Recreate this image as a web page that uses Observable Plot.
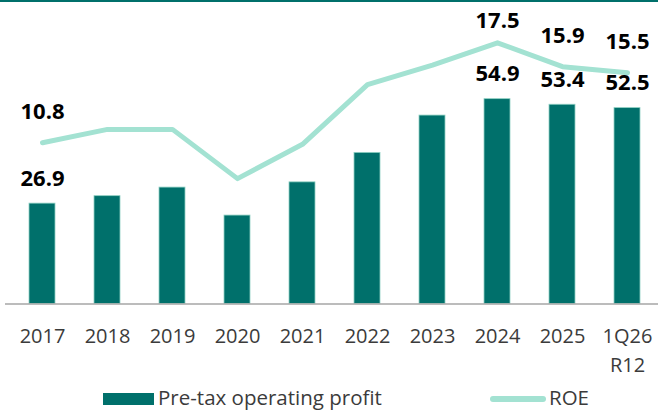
<!DOCTYPE html>
<html><head><meta charset="utf-8">
<script src="https://cdn.jsdelivr.net/npm/d3@7"></script>
<script src="https://cdn.jsdelivr.net/npm/@observablehq/plot@0.6"></script>
<style>
html,body{margin:0;padding:0;background:#fff;}
#wrap{position:relative;width:658px;height:410px;overflow:hidden;font-family:"Open Sans",sans-serif;}
#chart{position:absolute;left:0;top:0;}
#topline{position:absolute;left:0;top:0;width:658px;height:2px;background:#00706b;}
.leg{position:absolute;}
.legtxt{position:absolute;font-size:20.5px;line-height:20.5px;color:#3b3b3b;white-space:nowrap;}
</style></head><body>
<div id="wrap"><div id="chart"></div><div id="topline"></div><div id="legend"></div></div>
<script>
const categories = ["2017","2018","2019","2020","2021","2022","2023","2024","2025","1Q26\nR12"];
const profit = [26.9, 28.9, 31.2, 23.7, 32.6, 40.5, 50.5, 54.9, 53.4, 52.5];
const roe = [10.8, 11.7, 11.7, 8.4, 10.7, 14.7, 16.0, 17.5, 15.9, 15.5];
const labelled = ["2017","2024","2025","1Q26\nR12"];
const seriesNames = ["Pre-tax operating profit","ROE"];
const profitDomain = [0, 80];
const roeDomain = [0, 20];

const barColor = "#00706b";
const lineColor = "#a3e2d2";
const k = profitDomain[1] / roeDomain[1];

const data = categories.map((c, i) => ({cat: c, profit: profit[i], roe: roe[i], roeY: roe[i] * k, label: labelled.includes(c)}));
const lab = data.filter(d => d.label);
const peak = d3.max(roe);

const chart = Plot.plot({
  width: 658,
  height: 410,
  marginLeft: 5,
  marginRight: 0,
  marginTop: 5,
  marginBottom: 106.5,
  style: {fontFamily: "'Open Sans', sans-serif", background: "transparent"},
  x: {domain: categories, range: [6.4, 662.4], paddingInner: 0.6, paddingOuter: 0.3},
  y: {domain: profitDomain, axis: null},
  marks: [
    Plot.barY(data, {x: "cat", y: "profit", fill: barColor, stroke: "#8fd0c3", strokeWidth: 0.8}),
    Plot.ruleY([0], {stroke: "#a6a6a6", strokeWidth: 1.5}),
    Plot.line(data, {x: "cat", y: "roeY", stroke: lineColor, strokeWidth: 5, strokeLinecap: "round", strokeLinejoin: "round"}),
    Plot.text(lab, {x: "cat", y: "profit", text: d => d.profit.toFixed(1), dy: -25, fontSize: 22, fontWeight: 700, fill: "#000"}),
    Plot.text(lab.filter(d => d.roe !== peak), {x: "cat", y: "roeY", text: d => d.roe.toFixed(1), dy: -31, fontSize: 22, fontWeight: 700, fill: "#000"}),
    Plot.text(lab.filter(d => d.roe === peak), {x: "cat", y: "roeY", text: d => d.roe.toFixed(1), dy: -22, fontSize: 22, fontWeight: 700, fill: "#000"}),
    Plot.axisX({tickSize: 0, tickPadding: 19, fontSize: 20, fill: "#3b3b3b", lineHeight: 1.42, label: null})
  ]
});
document.getElementById("chart").appendChild(chart);

const legend = document.getElementById("legend");
legend.innerHTML = `
  <div class="leg" style="left:103px;top:393px;width:51px;height:12px;background:${barColor}"></div>
  <div class="legtxt" style="left:158px;top:386.8px">${seriesNames[0]}</div>
  <div class="leg" style="left:490px;top:396px;width:56px;height:6px;border-radius:3px;background:${lineColor}"></div>
  <div class="legtxt" style="left:549px;top:386.8px">${seriesNames[1]}</div>`;
</script>
</body></html>
